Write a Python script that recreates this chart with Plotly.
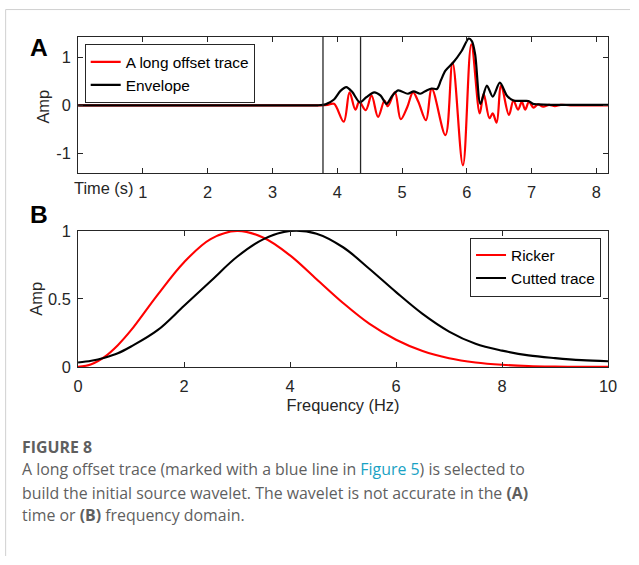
import plotly.graph_objects as go

# ---------------- data ----------------
# Panel A: long offset trace (red) and its envelope (black)
trace_time = [0.0, 1.0, 2.0, 3.0, 3.75, 3.85, 3.95, 4.10, 4.19, 4.28, 4.34, 4.44, 4.53, 4.63,
              4.73, 4.78, 4.89, 4.98, 5.08, 5.17, 5.25, 5.37, 5.46, 5.67, 5.78, 5.94, 6.07,
              6.20, 6.26, 6.35, 6.40, 6.46, 6.53, 6.65, 6.72, 6.79, 6.85, 6.90, 6.96, 7.03,
              7.10, 7.18, 7.27, 7.36, 7.45, 7.60, 8.00, 8.20]
trace_amp = [0.0, 0.0, 0.0, 0.0, 0.0, 0.01, 0.03, -0.34, 0.27, -0.09, 0.07, -0.10, 0.20, -0.24,
             0.10, -0.02, 0.27, -0.29, -0.04, 0.27, 0.08, -0.31, 0.34, -0.62, 0.89, -1.25, 1.27,
             -0.17, 0.24, -0.27, -0.17, -0.36, 0.41, -0.20, 0.10, -0.09, 0.07, -0.09, 0.07, -0.05,
             0.02, -0.03, 0.01, -0.02, 0.01, 0.0, 0.0, 0.0]

env_time = [0.0, 1.0, 2.0, 3.0, 3.70, 3.82, 3.95, 4.05, 4.14, 4.23, 4.35, 4.45, 4.57, 4.67,
            4.76, 4.85, 4.94, 5.09, 5.18, 5.28, 5.38, 5.46, 5.54, 5.60, 5.67, 5.79, 5.92,
            6.03, 6.08, 6.13, 6.21, 6.31, 6.40, 6.51, 6.62, 6.72, 6.85, 6.95, 7.02, 7.10,
            7.30, 7.60, 8.20]
env_amp = [0.0, 0.0, 0.0, 0.0, 0.0, 0.02, 0.12, 0.30, 0.38, 0.28, 0.06, 0.17, 0.27, 0.20,
           0.03, 0.20, 0.31, 0.24, 0.29, 0.24, 0.31, 0.35, 0.34, 0.52, 0.72, 0.89, 1.13,
           1.39, 1.33, 1.05, 0.03, 0.41, 0.18, 0.47, 0.20, 0.10, 0.09, 0.09, 0.03, 0.02,
           0.01, 0.01, 0.01]

window_times = [3.78, 4.36]
time_ticks = [1, 2, 3, 4, 5, 6, 7, 8]
amp_ticks_a = [-1, 0, 1]
amp_labels_a = ["-1", "0", "1"]

# Panel B: amplitude spectra
freq = [0.0, 0.25, 0.5, 0.75, 1.0, 1.5, 2.0, 2.5, 3.0, 3.5, 4.0, 4.5, 5.0, 5.5, 6.0,
        6.5, 7.0, 7.5, 8.0, 8.5, 9.0, 9.5, 10.0]
ricker_amp = [0.0, 0.019, 0.074, 0.160, 0.27, 0.53, 0.77, 0.94, 1.0, 0.95, 0.82, 0.645,
              0.47, 0.316, 0.20, 0.117, 0.064, 0.033, 0.016, 0.007, 0.003, 0.001, 0.0005]
cutted_amp = [0.032, 0.045, 0.068, 0.10, 0.15, 0.27, 0.45, 0.63, 0.81, 0.94, 1.0, 0.98,
              0.88, 0.72, 0.55, 0.39, 0.26, 0.17, 0.12, 0.085, 0.065, 0.05, 0.042]
freq_ticks = [0, 2, 4, 6, 8, 10]
amp_ticks_b = [0, 0.5, 1]
amp_labels_b = ["0", "0.5", "1"]

# ---------------- figure ----------------
W, H = 639, 565
# the captured page shows the figure inset by the body margin and slightly
# reduced, so target positions (in reference pixels) are mapped back here
M = 8
SX = W / (W + 2 * M)
SY = H / (H + 2 * M)
FS = 1 / ((SX + SY) / 2)
AX = "#262626"
FONT = "Liberation Sans, Arial, sans-serif"


def px(x):
    return (x / SX - M) / W


def py(y):
    return 1 - (y / SY - M) / H


def f(s):
    return round(s * FS, 1)


fig = go.Figure()
fig.add_trace(go.Scatter(x=trace_time, y=trace_amp, mode="lines", name="A long offset trace",
                         line=dict(color="#ff0000", width=2.2, shape="spline", smoothing=1.0),
                         xaxis="x", yaxis="y", legend="legend"))
fig.add_trace(go.Scatter(x=env_time, y=env_amp, mode="lines", name="Envelope",
                         line=dict(color="#000000", width=2.2, shape="spline", smoothing=0.8),
                         xaxis="x", yaxis="y", legend="legend"))
fig.add_trace(go.Scatter(x=freq, y=ricker_amp, mode="lines", name="Ricker",
                         line=dict(color="#ff0000", width=2.1, shape="spline"),
                         xaxis="x2", yaxis="y2", legend="legend2"))
fig.add_trace(go.Scatter(x=freq, y=cutted_amp, mode="lines", name="Cutted trace",
                         line=dict(color="#000000", width=2.1, shape="spline"),
                         xaxis="x2", yaxis="y2", legend="legend2"))

shapes = []
for t in window_times:
    shapes.append(dict(type="line", xref="x", yref="y domain", x0=t, x1=t, y0=0, y1=1,
                       line=dict(color=AX, width=1.3)))
# outer frame (light gray)
shapes.append(dict(type="line", xref="paper", yref="paper", x0=0.001, x1=1.0, y0=0.999, y1=0.999,
                   line=dict(color="#d0d0d0", width=1)))
shapes.append(dict(type="line", xref="paper", yref="paper", x0=0.001, x1=0.001, y0=0, y1=0.999,
                   line=dict(color="#d0d0d0", width=1)))

axis_common = dict(showline=True, linecolor=AX, linewidth=1, mirror="ticks", ticks="inside",
                   ticklen=5, tickwidth=1, tickcolor=AX, showgrid=False, zeroline=False,
                   tickfont=dict(family=FONT, size=f(16), color=AX))

x_dom = [px(80.7), px(609.3)]
fig.update_layout(
    width=W, height=H,
    margin=dict(l=0, r=0, t=0, b=0),
    paper_bgcolor="white", plot_bgcolor="white",
    font=dict(family=FONT, color=AX),
    xaxis=dict(domain=x_dom, range=[0, 8.18], tickvals=time_ticks, anchor="y",
               ticklabelstandoff=4, **axis_common),
    yaxis=dict(domain=[py(173), py(36)], range=[-1.42, 1.42], tickvals=amp_ticks_a,
               ticktext=amp_labels_a, anchor="x", ticklabelstandoff=3, **axis_common),
    xaxis2=dict(domain=x_dom, range=[0, 10], tickvals=freq_ticks, anchor="y2",
                ticklabelstandoff=4,
                title=dict(text="Frequency (Hz)", font=dict(family=FONT, size=f(16), color=AX),
                           standoff=5),
                **axis_common),
    yaxis2=dict(domain=[py(367.3), py(230.7)], range=[0, 1], tickvals=amp_ticks_b,
                ticktext=amp_labels_b, anchor="x2", ticklabelstandoff=3, **axis_common),
    legend=dict(x=px(87.3), y=py(43.3), xanchor="left", yanchor="top",
                bgcolor="white", bordercolor=AX, borderwidth=1,
                font=dict(family=FONT, size=f(15), color="#000000"),
                itemwidth=30, tracegroupgap=0),
    legend2=dict(x=px(602.3), y=py(237.3), xanchor="right", yanchor="top",
                 bgcolor="white", bordercolor=AX, borderwidth=1,
                 font=dict(family=FONT, size=f(15), color="#000000"),
                 itemwidth=30, tracegroupgap=0),
    shapes=shapes,
)

CAP = "'Open Sans', Lato, sans-serif"
CAPC = "#5f5f5f"
annotations = [
    dict(text="<b>A</b>", x=px(42), y=py(46.5), font=dict(family=FONT, size=f(24), color="#000")),
    dict(text="<b>B</b>", x=px(42), y=py(214.5), font=dict(family=FONT, size=f(24), color="#000")),
    dict(text="Amp", x=px(46), y=py(105.5), textangle=-90,
         font=dict(family=FONT, size=f(16), color=AX)),
    dict(text="Amp", x=px(38.5), y=py(299), textangle=-90,
         font=dict(family=FONT, size=f(16), color=AX)),
    dict(text="Time (s)", x=px(137), y=py(188), xanchor="right",
         font=dict(family=FONT, size=f(16), color=AX)),
    dict(text="<b>FIGURE 8</b>", x=px(23), y=py(447.5), xanchor="left",
         font=dict(family=CAP, size=f(15.5), color=CAPC)),
    dict(text="A long offset trace (marked with a blue line in "
              "<span style='color:#19a2c4'>Figure 5</span>) is selected to",
         x=px(23), y=py(470), xanchor="left", font=dict(family=CAP, size=f(15.5), color=CAPC)),
    dict(text="build the initial source wavelet. The wavelet is not accurate in the <b>(A)</b>",
         x=px(23), y=py(493.5), xanchor="left", font=dict(family=CAP, size=f(15.5), color=CAPC)),
    dict(text="time or <b>(B)</b> frequency domain.",
         x=px(23), y=py(516), xanchor="left", font=dict(family=CAP, size=f(15.5), color=CAPC)),
]
for a in annotations:
    a.setdefault("xref", "paper")
    a.setdefault("yref", "paper")
    a.setdefault("showarrow", False)
    a.setdefault("yanchor", "middle")
    a.setdefault("xanchor", "center")
fig.update_layout(annotations=annotations)

fig.write_html("out.html")
